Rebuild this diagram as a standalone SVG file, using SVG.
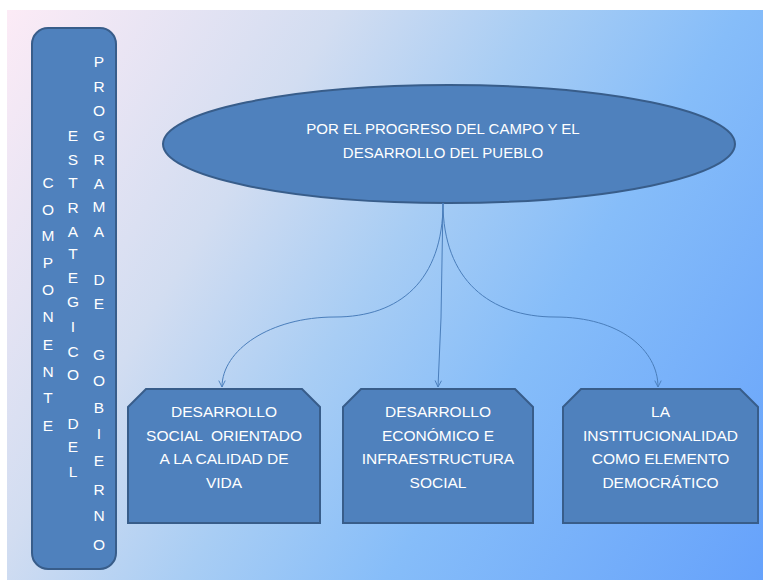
<svg xmlns="http://www.w3.org/2000/svg" width="763" height="580" viewBox="0 0 763 580">
<defs>
<linearGradient id="bg" x1="0" y1="0" x2="1.204" y2="0.567">
<stop offset="0" stop-color="#fcebf6"/>
<stop offset="0.3" stop-color="#d2ddf1"/>
<stop offset="0.48" stop-color="#a8cdf4"/>
<stop offset="0.66" stop-color="#86bdf9"/>
<stop offset="1" stop-color="#66a2fb"/>
</linearGradient>
<marker id="arr" viewBox="0 0 10 10" refX="9" refY="5" markerWidth="8" markerHeight="8" markerUnits="userSpaceOnUse" orient="auto">
<path d="M1,1 L9,5 L1,9" fill="none" stroke="#4a7ebb" stroke-width="1.2"/>
</marker>
</defs>
<style>
.node{fill:#4f81bd;stroke:#385d8a;stroke-width:2}
.t{font-family:"Liberation Sans",Arial,sans-serif;fill:#ffffff;text-anchor:middle}
.col{font-size:15.5px}
.bx{font-size:15.5px}
.el{font-size:15px}
.conn{fill:none;stroke:#4a7ebb;stroke-width:1;marker-end:url(#arr)}
</style>
<rect x="0" y="0" width="763" height="580" fill="#ffffff"/>
<rect x="7" y="10" width="756" height="570" fill="url(#bg)"/>

<g id="componente">
<rect class="node" x="32" y="28" width="84" height="541" rx="16" ry="16"/>
<g class="t col">
<text x="48" y="188">C</text>
<text x="48" y="215">O</text>
<text x="48" y="241">M</text>
<text x="48" y="268">P</text>
<text x="48" y="295">O</text>
<text x="48" y="322">N</text>
<text x="48" y="350">E</text>
<text x="48" y="377">N</text>
<text x="48" y="403">T</text>
<text x="48" y="431">E</text>
<text x="73" y="141">E</text>
<text x="73" y="165">S</text>
<text x="73" y="188">T</text>
<text x="73" y="213">R</text>
<text x="73" y="237">A</text>
<text x="73" y="259">T</text>
<text x="73" y="283">E</text>
<text x="73" y="307">G</text>
<text x="73" y="332">I</text>
<text x="73" y="357">C</text>
<text x="73" y="380">O</text>
<text x="73" y="429">D</text>
<text x="73" y="452">E</text>
<text x="73" y="477">L</text>
<text x="99" y="67">P</text>
<text x="99" y="92">R</text>
<text x="99" y="116">O</text>
<text x="99" y="141">G</text>
<text x="99" y="165">R</text>
<text x="99" y="189">A</text>
<text x="99" y="212">M</text>
<text x="99" y="237">A</text>
<text x="99" y="285">D</text>
<text x="99" y="309">E</text>
<text x="99" y="360">G</text>
<text x="99" y="386">O</text>
<text x="99" y="413">B</text>
<text x="99" y="439">I</text>
<text x="99" y="466">E</text>
<text x="99" y="495">R</text>
<text x="99" y="521">N</text>
<text x="99" y="550">O</text>
</g>
</g>

<g id="lema">
<ellipse class="node" cx="449" cy="144" rx="286" ry="59"/>
<text class="t el" x="443" y="133.5">POR EL PROGRESO DEL CAMPO Y EL</text>
<text class="t el" x="443" y="157.5">DESARROLLO DEL PUEBLO</text>
</g>

<g id="connectors">
<path class="conn" d="M443,203 C443,280 400,317 335,317 C270,317 222,350 222,387"/>
<path class="conn" d="M443,203 L441,318 L438,387"/>
<path class="conn" d="M443,203 C443,280 490,317 555,317 C620,317 658,350 658,387"/>
</g>

<g id="social">
<path class="node" d="M128,407 L146,389 L302,389 L320,407 L320,523 L128,523 Z"/>
<text class="t bx" x="224" y="417">DESARROLLO</text>
<text class="t bx" x="224" y="440.5" xml:space="preserve">SOCIAL  ORIENTADO</text>
<text class="t bx" x="224" y="464">A LA CALIDAD DE</text>
<text class="t bx" x="224" y="487.5">VIDA</text>
</g>

<g id="economico">
<path class="node" d="M343,407 L361,389 L515,389 L533,407 L533,523 L343,523 Z"/>
<text class="t bx" x="438" y="417">DESARROLLO</text>
<text class="t bx" x="438" y="440.5">ECONÓMICO E</text>
<text class="t bx" x="438" y="464">INFRAESTRUCTURA</text>
<text class="t bx" x="438" y="487.5">SOCIAL</text>
</g>

<g id="institucionalidad">
<path class="node" d="M563,407 L581,389 L740,389 L758,407 L758,523 L563,523 Z"/>
<text class="t bx" x="660.5" y="417">LA</text>
<text class="t bx" x="660.5" y="440.5">INSTITUCIONALIDAD</text>
<text class="t bx" x="660.5" y="464">COMO ELEMENTO</text>
<text class="t bx" x="660.5" y="487.5">DEMOCRÁTICO</text>
</g>
</svg>
